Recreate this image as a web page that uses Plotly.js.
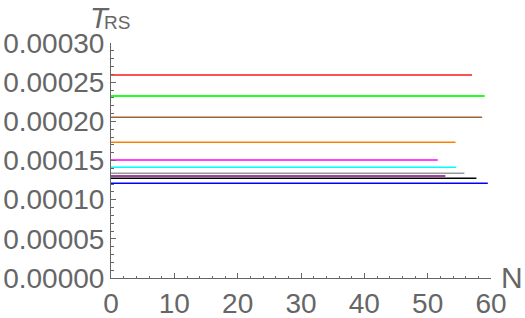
<!DOCTYPE html>
<html>
<head>
<meta charset="utf-8">
<script src="https://cdn.plot.ly/plotly-3.0.1.min.js"></script>
<style>html,body{margin:0;padding:0;background:#fff;}#chart{width:525px;height:318px;}</style>
</head>
<body>
<div id="chart"></div>
<script>
// Series: final N reached and constant T_RS value for each curve
const seriesNames = ["red", "green", "brown", "orange", "magenta", "cyan", "gray", "purple", "black", "blue"];
const seriesColors = ["#ff1a1a", "#22ff22", "#996633", "#ff8000", "#ff00ff", "#00ffff", "#999999", "#800080", "#000000", "#0000ff"];
const startN = [0, 0, 0, 0, 0, 0, 0, 0, 0, 0];
const endN = [57.0, 59.0, 58.6, 54.4, 51.6, 54.5, 55.8, 52.8, 57.7, 59.5];
const tValues = [0.0002591, 0.0002323, 0.0002051, 0.0001732, 0.0001506, 0.0001413, 0.0001336, 0.0001302, 0.0001273, 0.0001209];
const xTicks = [0, 10, 20, 30, 40, 50, 60];
const yTicks = [0, 0.00005, 0.0001, 0.00015, 0.0002, 0.00025, 0.0003];

const traces = seriesNames.map((name, i) => ({
  type: "scatter",
  mode: "lines",
  name: name,
  x: [startN[i], endN[i]],
  y: [tValues[i], tValues[i]],
  line: {color: seriesColors[i], width: name === "green" ? 2 : 1.5},
  hoverinfo: "skip"
}));

const gray = "#666666";
const fam = "Liberation Sans, Arial, sans-serif";
const tickFont = {family: fam, size: 28, color: gray};

const layout = {
  width: 525,
  height: 318,
  margin: {l: 111, r: 34, t: 43, b: 40, pad: 0},
  paper_bgcolor: "#ffffff",
  plot_bgcolor: "#ffffff",
  showlegend: false,
  xaxis: {
    range: [0, 60],
    tickvals: xTicks,
    ticktext: xTicks.map(String),
    showgrid: false, zeroline: false,
    showline: true, linecolor: gray, linewidth: 1,
    ticks: "inside", ticklen: 5, tickcolor: gray, tickwidth: 1,
    minor: {dtick: 2, ticks: "inside", ticklen: 2.5, tickcolor: gray, showgrid: false},
    tickfont: tickFont
  },
  yaxis: {
    range: [0, 0.0003],
    tickvals: yTicks,
    ticktext: yTicks.map(v => v.toFixed(5)),
    showgrid: false, zeroline: false,
    showline: true, linecolor: gray, linewidth: 1,
    ticks: "inside", ticklen: 5, tickcolor: gray, tickwidth: 1,
    minor: {dtick: 0.00001, ticks: "inside", ticklen: 2.5, tickcolor: gray, showgrid: false},
    tickfont: tickFont
  },
  annotations: [
    {xref: "paper", yref: "paper", x: 1.055, y: 0.004, xanchor: "center", yanchor: "middle",
     text: "N", showarrow: false, font: {family: fam, size: 30, color: gray}},
    {xref: "paper", yref: "paper", x: 0.003, y: 1.183, xanchor: "right", yanchor: "top",
     text: "<i>T</i>", showarrow: false, font: {family: fam, size: 29, color: gray}},
    {xref: "paper", yref: "paper", x: -0.025, y: 1.14, xanchor: "left", yanchor: "top",
     text: "RS", showarrow: false, font: {family: fam, size: 19, color: gray}}
  ]
};

Plotly.newPlot("chart", traces, layout, {staticPlot: true, displayModeBar: false});
</script>
</body>
</html>
